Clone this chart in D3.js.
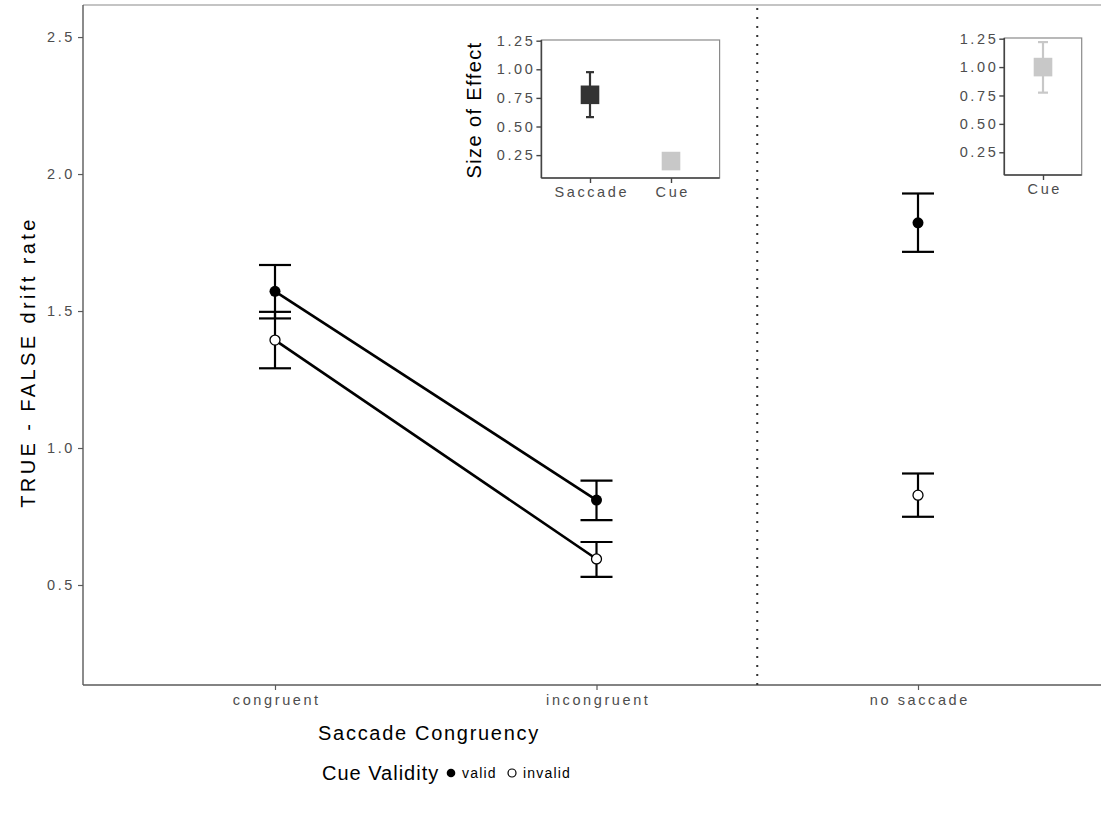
<!DOCTYPE html>
<html>
<head>
<meta charset="utf-8">
<script src="https://cdn.jsdelivr.net/npm/d3@7"></script>
<style>
  body { margin: 0; background: #fff; }
  text { font-family: "Liberation Sans", Arial, sans-serif; }
</style>
</head>
<body>
<svg id="chart" width="1101" height="816"></svg>
<script>
// main panel data
const categories = ['congruent', 'incongruent', 'no saccade'];
const validMean = [1.572, 0.810, 1.822];
const validLo = [1.473, 0.737, 1.716];
const validHi = [1.668, 0.881, 1.929];
const invalidMean = [1.394, 0.595, 0.828];
const invalidLo = [1.291, 0.530, 0.749];
const invalidHi = [1.497, 0.657, 0.907];
const mainTicks = [0.5, 1.0, 1.5, 2.0, 2.5];

// inset 1 (saccade trials)
const inset1Cats = ['Saccade', 'Cue'];
const inset1Mean = [0.777, 0.198];
const inset1Lo = [0.582, 0.170];
const inset1Hi = [0.975, 0.228];
// inset 2 (no saccade)
const inset2Cats = ['Cue'];
const inset2Mean = [1.00];
const inset2Lo = [0.775];
const inset2Hi = [1.22];
const insetTicks = [0.25, 0.50, 0.75, 1.00, 1.25];

const legendLabels = ['valid', 'invalid'];

const svg = d3.select('#chart');
const tickLS = 2.6; // tick labels are drawn spread out in the original
const tickFS = 14.5;

// ----- main panel -----
const pLeft = 83, pTop = 5, pBottom = 685, pRight = 1101;
const x = d3.scalePoint().domain(categories).range([275, 918]);
const y = d3.scaleLinear().domain([0.135, 2.617]).range([pBottom, pTop]);

// panel border (top)
svg.append('line').attr('x1', pLeft).attr('x2', pRight).attr('y1', pTop).attr('y2', pTop)
    .attr('stroke', '#8a8a8a').attr('stroke-width', 1.2);

const yAxis = svg.append('g').attr('transform', `translate(${pLeft},0)`)
    .call(d3.axisLeft(y).tickValues(mainTicks).tickFormat(d3.format('.1f')).tickSize(5).tickPadding(3));
yAxis.select('.domain').attr('d', `M0,${pTop}V${pBottom}`);
const xAxis = svg.append('g').attr('transform', `translate(0,${pBottom})`)
    .call(d3.axisBottom(x).tickSize(5).tickPadding(5));
xAxis.select('.domain').attr('d', `M${pLeft},0H${pRight}`);
[yAxis, xAxis].forEach(a => {
    a.selectAll('.domain').attr('stroke', '#5a5a5a').attr('stroke-width', 1.4);
    a.selectAll('.tick line').attr('stroke', '#5a5a5a').attr('stroke-width', 1.2);
    a.selectAll('.tick text').attr('fill', '#4d4d4d').attr('font-size', tickFS)
        .attr('letter-spacing', tickLS);
});
xAxis.selectAll('.tick text').attr('dx', tickLS / 2);

// dotted separator between saccade and no-saccade conditions
const sepX = (x('incongruent') + x('no saccade')) / 2;
svg.append('line').attr('x1', sepX).attr('x2', sepX).attr('y1', pTop + 3).attr('y2', pBottom)
    .attr('stroke', '#333').attr('stroke-width', 2).attr('stroke-dasharray', '2,7');

// connecting lines (saccade conditions only)
const lineGen = d3.line().x(d => x(d.c)).y(d => y(d.v));
[validMean, invalidMean].forEach(arr => {
    svg.append('path')
        .attr('d', lineGen(categories.slice(0, 2).map((c, i) => ({ c, v: arr[i] }))))
        .attr('fill', 'none').attr('stroke', '#000').attr('stroke-width', 2.6);
});

// error bars
function errorBars(g, xs, lo, hi, cap, color, width) {
    xs.forEach((xp, i) => {
        g.append('line').attr('x1', xp).attr('x2', xp).attr('y1', lo[i]).attr('y2', hi[i])
            .attr('stroke', color).attr('stroke-width', width);
        [lo[i], hi[i]].forEach(yy => {
            g.append('line').attr('x1', xp - cap / 2).attr('x2', xp + cap / 2).attr('y1', yy).attr('y2', yy)
                .attr('stroke', color).attr('stroke-width', width);
        });
    });
}
const mainG = svg.append('g');
const xs = categories.map(c => x(c));
errorBars(mainG, xs, validLo.map(y), validHi.map(y), 32, '#000', 2.2);
errorBars(mainG, xs, invalidLo.map(y), invalidHi.map(y), 32, '#000', 2.2);

// points
mainG.selectAll('.valid').data(validMean).join('circle')
    .attr('cx', (d, i) => xs[i]).attr('cy', d => y(d)).attr('r', 5.5)
    .attr('fill', '#000');
mainG.selectAll('.invalid').data(invalidMean).join('circle')
    .attr('cx', (d, i) => xs[i]).attr('cy', d => y(d)).attr('r', 5)
    .attr('fill', '#fff').attr('stroke', '#000').attr('stroke-width', 1.3);

// axis titles
svg.append('text').attr('x', 429).attr('y', 740).attr('text-anchor', 'middle')
    .attr('font-size', 20).attr('letter-spacing', 1.7).attr('fill', '#000').text('Saccade Congruency');
svg.append('text').attr('transform', 'translate(35,362) rotate(-90)').attr('text-anchor', 'middle')
    .attr('font-size', 20).attr('letter-spacing', 3.4).attr('fill', '#000').text('TRUE - FALSE drift rate');

// ----- insets -----
function drawInset(opts) {
    const g = svg.append('g');
    const ix = d3.scalePoint().domain(opts.cats).range(opts.xRange).padding(0);
    const iy = d3.scaleLinear().domain([0.05, 1.256]).range([opts.bottom, opts.top]);
    const step = opts.cats.length > 1 ? (opts.xRange[1] - opts.xRange[0]) : opts.unit;
    const l = opts.xRange[0] - 0.6 * step, r = opts.xRange[1] + 0.6 * step;
    g.append('rect').attr('x', l).attr('y', opts.top).attr('width', r - l).attr('height', opts.bottom - opts.top)
        .attr('fill', '#fff').attr('stroke', '#8a8a8a').attr('stroke-width', 1.2);
    const ya = g.append('g').attr('transform', `translate(${l},0)`)
        .call(d3.axisLeft(iy).tickValues(insetTicks).tickFormat(d3.format('.2f')).tickSize(5).tickPadding(1));
    ya.select('.domain').attr('d', `M0,${opts.top}V${opts.bottom}`);
    const xa = g.append('g').attr('transform', `translate(0,${opts.bottom})`)
        .call(d3.axisBottom(ix).tickSize(5).tickPadding(4));
    xa.select('.domain').attr('d', `M${l},0H${r}`);
    [ya, xa].forEach(a => {
        a.selectAll('.domain').attr('stroke', '#444').attr('stroke-width', 1.6);
        a.selectAll('.tick line').attr('stroke', '#444').attr('stroke-width', 1.4);
        a.selectAll('.tick text').attr('fill', '#4d4d4d').attr('font-size', tickFS)
            .attr('letter-spacing', tickLS);
    });
    xa.selectAll('.tick text').attr('dx', tickLS / 2);
    const ixs = opts.cats.map(c => ix(c));
    opts.cats.forEach((c, i) => {
        errorBars(g, [ixs[i]], [iy(opts.lo[i])], [iy(opts.hi[i])], opts.cap, opts.colors[i], 2.2);
        g.append('rect').attr('x', ixs[i] - 9.3).attr('y', iy(opts.mean[i]) - 9.3)
            .attr('width', 18.6).attr('height', 18.6).attr('fill', opts.colors[i]);
    });
    if (opts.title) {
        g.append('text').attr('transform', `translate(${opts.titleX},${(opts.top + opts.bottom) / 2 + 1}) rotate(-90)`)
            .attr('text-anchor', 'middle').attr('font-size', 20).attr('letter-spacing', 1.4)
            .attr('fill', '#000').text(opts.title);
    }
}

drawInset({
    cats: inset1Cats, mean: inset1Mean, lo: inset1Lo, hi: inset1Hi,
    xRange: [590, 671], top: 40, bottom: 178, cap: 8,
    colors: ['#333333', '#c8c8c8'], title: 'Size of Effect', titleX: 481
});
drawInset({
    cats: inset2Cats, mean: inset2Mean, lo: inset2Lo, hi: inset2Hi,
    xRange: [1043, 1043], unit: 64.5, top: 38, bottom: 175, cap: 10,
    colors: ['#c8c8c8']
});

// ----- legend -----
const lg = svg.append('g');
lg.append('text').attr('x', 322).attr('y', 780).attr('font-size', 20).attr('letter-spacing', 1)
    .attr('fill', '#000').text('Cue Validity');
const legX = [451, 512];
legendLabels.forEach((lab, i) => {
    lg.append('circle').attr('cx', legX[i]).attr('cy', 773).attr('r', i === 0 ? 4.3 : 4)
        .attr('fill', i === 0 ? '#000' : '#fff').attr('stroke', '#000').attr('stroke-width', i === 0 ? 0 : 1.2);
    lg.append('text').attr('x', legX[i] + 11).attr('y', 778).attr('font-size', 14).attr('letter-spacing', 1.2)
        .attr('fill', '#000').text(lab);
});
</script>
</body>
</html>
